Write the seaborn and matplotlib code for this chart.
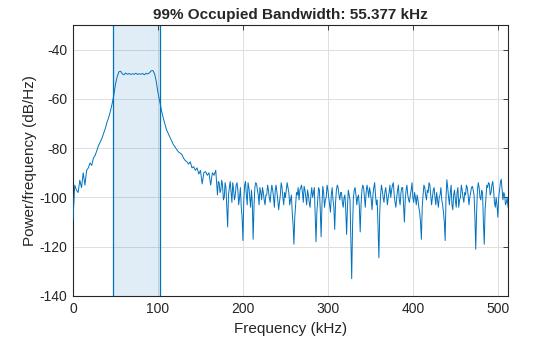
import matplotlib
matplotlib.use("Agg")
import matplotlib.pyplot as plt
import seaborn as sns
import numpy as np
import pandas as pd

# ---- data ----
# signal region + skirts: 0..168 kHz every 2 kHz
skirt_step_khz = 2
skirt_psd_db = [
    -109, -95, -97, -98, -93, -96, -90, -95, -89, -88,
    -86, -87, -84, -83, -81, -79, -77.5, -76, -74, -72,
    -69.5, -67.5, -65, -62, -58.5, -54, -51, -49, -48.8, -49.8,
    -50.2, -49.5, -50.0, -49.7, -50.1, -49.8, -50.0, -49.6, -50.1, -49.8,
    -50.0, -49.7, -50.2, -49.6, -49.9, -49.4, -48.6, -48.5, -49.8, -53,
    -57.5, -61, -64.5, -67.5, -70, -72.5, -74, -75.5, -77, -78.5,
    -79.5, -80.5, -81.5, -82, -82.5, -84, -85, -85.5, -86.5, -85.5,
    -88, -87.5, -89, -88, -90.5, -89, -94.5, -90, -89.5, -91,
    -90, -95, -90, -91, -89,
]
# noise floor: 170..512 kHz every 1 kHz
noise_start_khz = 170
noise_step_khz = 1
noise_psd_db = [
    -99, -93.5, -94, -98, -97, -93, -95, -101, -100, -94,
    -96, -104, -112, -99, -96, -93.5, -98, -102, -94, -97,
    -101, -99, -95, -94, -97, -103, -100, -96, -104, -108,
    -117.5, -101, -95, -93.5, -99, -103, -94, -96, -100, -104,
    -97, -102, -117, -104, -96, -94, -94.5, -97, -99, -103,
    -96, -98, -101, -96, -98, -101, -103, -99, -99, -95,
    -97, -100, -102, -98, -95, -97, -100, -104, -97, -95,
    -98, -101, -105, -102, -99, -94, -96, -100, -103, -98,
    -100, -97, -94, -96, -98, -103, -101, -99, -106, -111,
    -119, -108, -103, -98, -99, -96, -101, -97, -96, -95,
    -98, -102, -95.5, -97, -100, -103, -97, -99, -102, -104,
    -99, -96, -100, -98, -96, -107, -118, -106, -101, -96,
    -97, -105, -116, -103, -95.5, -98, -104, -101, -100, -95,
    -97, -100, -103, -106, -99, -96, -101, -104, -113, -102,
    -97, -95, -96, -99, -101, -98, -98, -102, -104, -100,
    -99, -105, -115, -104, -97, -99, -101, -118, -133, -112,
    -100, -97, -96, -99, -103, -100, -99, -104, -114, -103,
    -97, -95, -96, -100, -104, -98, -95, -97, -100, -96,
    -98, -101, -105, -99, -96, -94, -99, -103, -101, -112,
    -124.5, -106, -99, -95, -97, -100, -102, -98, -96, -99,
    -103, -100, -98, -95, -100, -97, -95, -94, -99, -102,
    -104, -100, -97, -95, -101, -103, -98, -96, -96, -103,
    -110, -101, -97, -95, -99, -101, -102, -99, -97, -94,
    -100, -102, -98, -100, -103, -99, -101, -104, -106, -110,
    -117, -104, -99, -95, -96, -99, -101, -97, -98, -94,
    -95, -99, -103, -100, -97, -96, -100, -103, -98, -101,
    -104, -100, -99, -96, -101, -103, -106, -110, -117.5, -100,
    -92.8, -96, -100, -103, -98, -95, -103, -105, -99, -97,
    -101, -104, -98, -96, -104, -101, -100, -95, -97, -100,
    -102, -98, -99, -95, -96, -99, -103, -100, -98, -96,
    -95.5, -97, -99, -108, -121, -106, -97, -94, -96, -100,
    -101, -97, -98, -110, -119, -105, -100, -95, -96, -94,
    -94.5, -99, -98, -95, -93.5, -97, -102, -104, -100, -103,
    -108, -100, -97, -94, -92.6, -97, -101, -98, -99, -103,
    -102, -100, -104,
]
band_low_khz = 47.31
band_high_khz = 102.69
title_text = "99% Occupied Bandwidth: 55.377 kHz"

freq_khz = ([i * skirt_step_khz for i in range(len(skirt_psd_db))] +
            [noise_start_khz + i * noise_step_khz for i in range(len(noise_psd_db))])
df = pd.DataFrame({"Frequency (kHz)": freq_khz, "PSD": skirt_psd_db + noise_psd_db})

sns.set_style("white")
plt.rcParams["font.family"] = ["Liberation Sans", "DejaVu Sans"]
plt.rcParams["axes.unicode_minus"] = False

matlab_blue = "#0072BD"
fig = plt.figure(figsize=(5.6, 3.37), dpi=100)
ax = fig.add_axes([0.1304, 0.1217, 0.7768, 0.8042])

ax.axvspan(band_low_khz, band_high_khz, color=matlab_blue, alpha=0.12, lw=0, zorder=1)
ax.axvline(band_low_khz, color=matlab_blue, lw=0.9, zorder=1.5)
ax.axvline(band_high_khz, color=matlab_blue, lw=0.9, zorder=1.5)

sns.lineplot(data=df, x="Frequency (kHz)", y="PSD", ax=ax, color=matlab_blue,
             linewidth=0.7, zorder=3)

ax.set_xlim(0, 512)
ax.set_ylim(-140, -30)
ax.set_xticks([0, 100, 200, 300, 400, 500])
ax.set_yticks([-140, -120, -100, -80, -60, -40])
ax.grid(True, color="#dedede", linewidth=0.7)
ax.set_axisbelow(True)

for s in ax.spines.values():
    s.set_color("#262626")
    s.set_linewidth(0.8)
ax.tick_params(direction="in", length=3.5, width=0.6, color="#262626",
               top=True, right=True, labelsize=10, labelcolor="#262626", pad=4)

ax.set_xlabel("Frequency (kHz)", fontsize=11, color="#262626", labelpad=5)
ax.set_ylabel("Power/frequency (dB/Hz)", fontsize=11, color="#262626", labelpad=2)
ax.set_title(title_text, fontsize=11, fontweight="bold", color="#262626", pad=4)

fig.savefig("out.png", dpi=100)
